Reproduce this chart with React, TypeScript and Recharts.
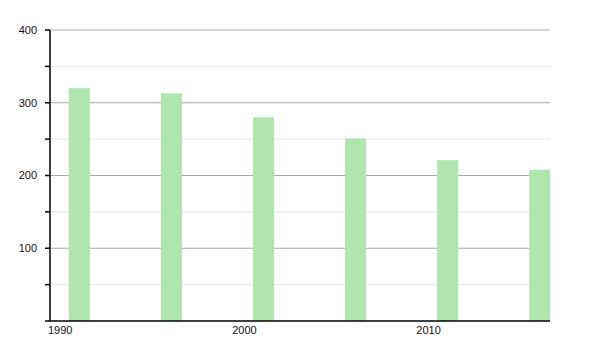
import { BarChart, Bar, XAxis, YAxis, CartesianGrid } from 'recharts';

const years = [1991, 1996, 2001, 2006, 2011, 2016];
const values = [320, 313, 280, 251, 221, 208];
const yTicks = [0, 50, 100, 150, 200, 250, 300, 350, 400];
const majorLines = [100, 200, 300, 400];
const minorLines = [50, 150, 250, 350];
const xTicks = [1990, 2000, 2010];

const data = years.map((year, i) => ({ year, value: values[i] }));

const font = '"Liberation Sans", Arial, sans-serif';

// bars start at their year instead of being centred on it
const BarShape = (p: any) => (
  <rect x={p.x + p.width / 2} y={p.y} width={p.width} height={p.height} fill="#b0e5b0" />
);

const XTick = ({ x, y, payload }: any) => (
  <text x={x - 2} y={y + 5} textAnchor="start" fontSize={11} fill="#111" fontFamily={font}>
    {payload.value}
  </text>
);

export default function App() {
  return (
    <div style={{ position: 'absolute', left: 0, top: 0, background: '#fff' }}>
      <BarChart width={600} height={350} data={data} margin={{ top: 30, right: 50, bottom: 0, left: 0 }} barSize={21}>
        <CartesianGrid vertical={false} horizontalValues={minorLines} stroke="#e8e8e8" />
        <CartesianGrid vertical={false} horizontalValues={majorLines} stroke="#aaaaaa" />
        <XAxis
          dataKey="year"
          type="number"
          domain={[1990, 2017.15]}
          ticks={xTicks}
          tickLine={false}
          tick={<XTick />}
          height={29}
          stroke="#000"
          strokeWidth={1.5}
        />
        <YAxis
          type="number"
          domain={[0, 400]}
          ticks={yTicks}
          interval={0}
          width={50}
          tickSize={5}
          tickMargin={8}
          tickFormatter={(v: number) => (v > 0 && v % 100 === 0 ? String(v) : '')}
          tick={{ fill: '#111', fontSize: 11, fontFamily: font }}
          stroke="#000"
          strokeWidth={1.5}
        />
        <Bar dataKey="value" shape={<BarShape />} isAnimationActive={false} />
      </BarChart>
    </div>
  );
}
